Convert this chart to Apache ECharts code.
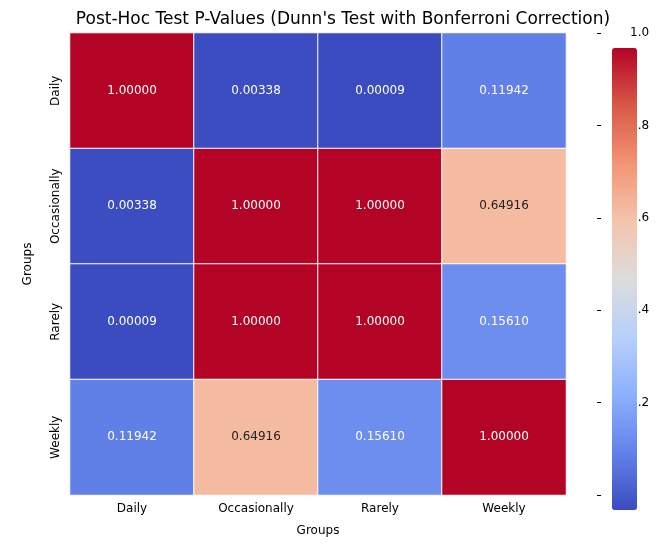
<!DOCTYPE html>
<html>
<head><meta charset="utf-8"></head>
<body style="margin:0">
<div id="container" style="width:660px;height:548px"></div>
<script src="https://cdn.jsdelivr.net/npm/echarts@6/dist/echarts.min.js"></script>
<script>
var groups = ['Daily', 'Occasionally', 'Rarely', 'Weekly'];
var pvalues = [
  [1.00000, 0.00338, 0.00009, 0.11942],
  [0.00338, 1.00000, 1.00000, 0.64916],
  [0.00009, 1.00000, 1.00000, 0.15610],
  [0.11942, 0.64916, 0.15610, 1.00000]
];
var colorTicks = [0.2, 0.4, 0.6, 0.8, 1.0];

var data = [];
pvalues.forEach(function (row, r) {
  row.forEach(function (v, c) {
    var dark = v > 0.3 && v < 0.8;
    data.push({ value: [c, r, v], label: { color: dark ? '#222' : '#fff' } });
  });
});

var myChart = echarts.init(document.getElementById('container'));
var option = {
  title: {
    text: "Post-Hoc Test P-Values (Dunn's Test with Bonferroni Correction)",
    left: 338, textAlign: 'center', top: 6,
    textStyle: { fontSize: 17, fontWeight: 'normal', color: '#000', fontFamily: 'DejaVu Sans' }
  },
  textStyle: { fontFamily: 'DejaVu Sans' },
  grid: [
    { left: 70, top: 33, width: 496, height: 462 },
    { left: 597, top: 33, width: 25, height: 462 }
  ],
  xAxis: [
    { type: 'category', data: groups, gridIndex: 0, name: 'Groups', nameLocation: 'middle', nameGap: 30,
      nameTextStyle: { color: '#000', fontSize: 12 },
      axisLine: { show: false }, axisTick: { length: 4, lineStyle: { color: '#000' } },
      axisLabel: { color: '#000', fontSize: 12 }, splitLine: { show: false } },
    { type: 'value', gridIndex: 1, show: false }
  ],
  yAxis: [
    { type: 'category', data: groups, gridIndex: 0, inverse: true, name: 'Groups', nameLocation: 'middle', nameGap: 36,
      nameTextStyle: { color: '#000', fontSize: 12 },
      axisLine: { show: false }, axisTick: { length: 4, lineStyle: { color: '#000' } },
      axisLabel: { color: '#000', fontSize: 12, rotate: 90 }, splitLine: { show: false } },
    { type: 'value', gridIndex: 1, position: 'right', min: 0, max: 1, interval: 0.2,
      axisLine: { show: false }, axisTick: { show: true, length: 4, lineStyle: { color: '#000' } },
      axisLabel: { color: '#000', fontSize: 12, formatter: function (v) {
        return colorTicks.indexOf(Math.round(v * 10) / 10) >= 0 ? v.toFixed(1) : ''; } },
      splitLine: { show: false } }
  ],
  visualMap: {
    type: 'continuous', min: 0.00009, max: 1, calculable: false, seriesIndex: 0,
    left: 597, top: 33, itemWidth: 25, itemHeight: 462, text: ['', ''], showLabel: false,
    inRange: { color: ['#3b4cc0', '#6282ea', '#8db0fe', '#b8d0f9', '#dddcdc', '#f5c4ac', '#f39475', '#d95847', '#b40426'] }
  },
  series: [{
    type: 'heatmap', data: data,
    itemStyle: { borderColor: '#fff', borderWidth: 1 },
    label: { show: true, fontSize: 12, formatter: function (p) { return p.value[2].toFixed(5); } }
  }]
};
myChart.setOption(option);
</script>
</body>
</html>
